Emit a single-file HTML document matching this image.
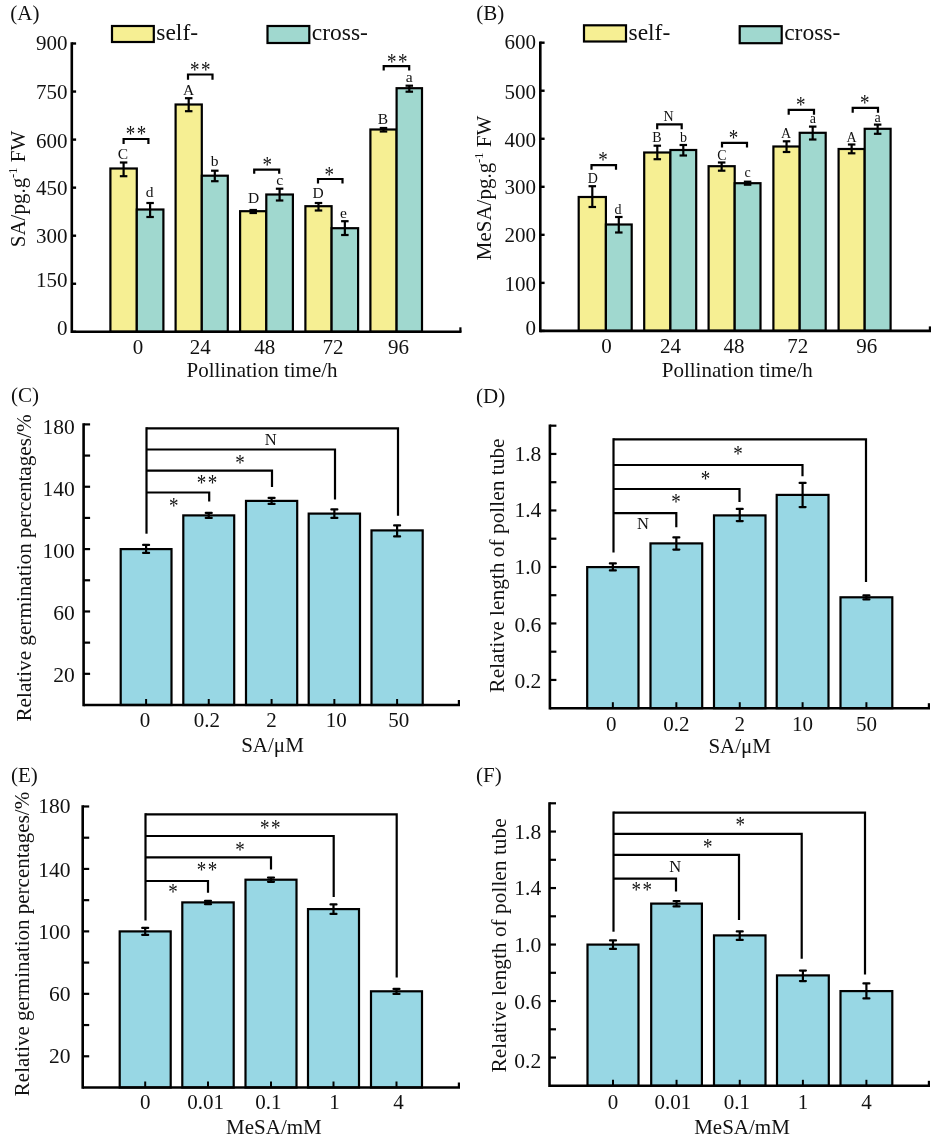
<!DOCTYPE html>
<html lang="en"><head><meta charset="utf-8"><title>Figure</title>
<style>
html,body{margin:0;padding:0;background:#fff;}
svg{display:block;will-change:transform;font-family:"Liberation Serif", "DejaVu Serif", serif;fill:#111;}
</style></head><body>
<svg width="931" height="1141" viewBox="0 0 931 1141">
<rect x="0" y="0" width="931" height="1141" fill="#fff" stroke="none"/>
<rect x="110.40" y="168.50" width="26.40" height="163.30" fill="#F6EF93" stroke="#000" stroke-width="2.2"/>
<rect x="136.80" y="209.50" width="26.60" height="122.30" fill="#A0D8CF" stroke="#000" stroke-width="2.2"/>
<rect x="175.60" y="104.50" width="26.20" height="227.30" fill="#F6EF93" stroke="#000" stroke-width="2.2"/>
<rect x="201.80" y="175.70" width="26.00" height="156.10" fill="#A0D8CF" stroke="#000" stroke-width="2.2"/>
<rect x="240.10" y="211.20" width="26.20" height="120.60" fill="#F6EF93" stroke="#000" stroke-width="2.2"/>
<rect x="266.30" y="194.50" width="26.60" height="137.30" fill="#A0D8CF" stroke="#000" stroke-width="2.2"/>
<rect x="305.40" y="206.20" width="26.20" height="125.60" fill="#F6EF93" stroke="#000" stroke-width="2.2"/>
<rect x="331.60" y="228.20" width="26.50" height="103.60" fill="#A0D8CF" stroke="#000" stroke-width="2.2"/>
<rect x="370.40" y="129.50" width="26.20" height="202.30" fill="#F6EF93" stroke="#000" stroke-width="2.2"/>
<rect x="396.60" y="88.20" width="25.40" height="243.60" fill="#A0D8CF" stroke="#000" stroke-width="2.2"/>
<line x1="123.60" y1="162.50" x2="123.60" y2="176.20" stroke="#000" stroke-width="2.2" stroke-linecap="butt"/>
<line x1="119.85" y1="162.50" x2="127.35" y2="162.50" stroke="#000" stroke-width="2.2" stroke-linecap="butt"/>
<line x1="119.85" y1="176.20" x2="127.35" y2="176.20" stroke="#000" stroke-width="2.2" stroke-linecap="butt"/>
<line x1="150.10" y1="203.00" x2="150.10" y2="217.00" stroke="#000" stroke-width="2.2" stroke-linecap="butt"/>
<line x1="146.35" y1="203.00" x2="153.85" y2="203.00" stroke="#000" stroke-width="2.2" stroke-linecap="butt"/>
<line x1="146.35" y1="217.00" x2="153.85" y2="217.00" stroke="#000" stroke-width="2.2" stroke-linecap="butt"/>
<line x1="188.70" y1="98.20" x2="188.70" y2="111.20" stroke="#000" stroke-width="2.2" stroke-linecap="butt"/>
<line x1="184.95" y1="98.20" x2="192.45" y2="98.20" stroke="#000" stroke-width="2.2" stroke-linecap="butt"/>
<line x1="184.95" y1="111.20" x2="192.45" y2="111.20" stroke="#000" stroke-width="2.2" stroke-linecap="butt"/>
<line x1="214.80" y1="170.70" x2="214.80" y2="181.20" stroke="#000" stroke-width="2.2" stroke-linecap="butt"/>
<line x1="211.05" y1="170.70" x2="218.55" y2="170.70" stroke="#000" stroke-width="2.2" stroke-linecap="butt"/>
<line x1="211.05" y1="181.20" x2="218.55" y2="181.20" stroke="#000" stroke-width="2.2" stroke-linecap="butt"/>
<line x1="253.20" y1="210.00" x2="253.20" y2="213.00" stroke="#000" stroke-width="2.2" stroke-linecap="butt"/>
<line x1="249.45" y1="210.00" x2="256.95" y2="210.00" stroke="#000" stroke-width="2.2" stroke-linecap="butt"/>
<line x1="249.45" y1="213.00" x2="256.95" y2="213.00" stroke="#000" stroke-width="2.2" stroke-linecap="butt"/>
<line x1="279.60" y1="188.70" x2="279.60" y2="200.50" stroke="#000" stroke-width="2.2" stroke-linecap="butt"/>
<line x1="275.85" y1="188.70" x2="283.35" y2="188.70" stroke="#000" stroke-width="2.2" stroke-linecap="butt"/>
<line x1="275.85" y1="200.50" x2="283.35" y2="200.50" stroke="#000" stroke-width="2.2" stroke-linecap="butt"/>
<line x1="318.50" y1="203.00" x2="318.50" y2="210.50" stroke="#000" stroke-width="2.2" stroke-linecap="butt"/>
<line x1="314.75" y1="203.00" x2="322.25" y2="203.00" stroke="#000" stroke-width="2.2" stroke-linecap="butt"/>
<line x1="314.75" y1="210.50" x2="322.25" y2="210.50" stroke="#000" stroke-width="2.2" stroke-linecap="butt"/>
<line x1="344.85" y1="221.20" x2="344.85" y2="235.00" stroke="#000" stroke-width="2.2" stroke-linecap="butt"/>
<line x1="341.10" y1="221.20" x2="348.60" y2="221.20" stroke="#000" stroke-width="2.2" stroke-linecap="butt"/>
<line x1="341.10" y1="235.00" x2="348.60" y2="235.00" stroke="#000" stroke-width="2.2" stroke-linecap="butt"/>
<line x1="383.50" y1="128.00" x2="383.50" y2="131.50" stroke="#000" stroke-width="2.2" stroke-linecap="butt"/>
<line x1="379.75" y1="128.00" x2="387.25" y2="128.00" stroke="#000" stroke-width="2.2" stroke-linecap="butt"/>
<line x1="379.75" y1="131.50" x2="387.25" y2="131.50" stroke="#000" stroke-width="2.2" stroke-linecap="butt"/>
<line x1="409.30" y1="85.70" x2="409.30" y2="91.70" stroke="#000" stroke-width="2.2" stroke-linecap="butt"/>
<line x1="405.55" y1="85.70" x2="413.05" y2="85.70" stroke="#000" stroke-width="2.2" stroke-linecap="butt"/>
<line x1="405.55" y1="91.70" x2="413.05" y2="91.70" stroke="#000" stroke-width="2.2" stroke-linecap="butt"/>
<line x1="71.80" y1="42.30" x2="71.80" y2="333.10" stroke="#000" stroke-width="2.6" stroke-linecap="butt"/>
<line x1="71.80" y1="331.80" x2="461.50" y2="331.80" stroke="#000" stroke-width="2.6" stroke-linecap="butt"/>
<line x1="460.40" y1="331.80" x2="460.40" y2="327.30" stroke="#000" stroke-width="2.2" stroke-linecap="butt"/>
<line x1="71.80" y1="331.80" x2="76.10" y2="331.80" stroke="#000" stroke-width="2.4" stroke-linecap="butt"/>
<text x="67.60" y="335.40" font-size="21" text-anchor="end" >0</text>
<line x1="71.80" y1="283.75" x2="76.10" y2="283.75" stroke="#000" stroke-width="2.4" stroke-linecap="butt"/>
<text x="67.60" y="287.15" font-size="21" text-anchor="end" >150</text>
<line x1="71.80" y1="235.70" x2="76.10" y2="235.70" stroke="#000" stroke-width="2.4" stroke-linecap="butt"/>
<text x="67.60" y="243.00" font-size="21" text-anchor="end" >300</text>
<line x1="71.80" y1="187.65" x2="76.10" y2="187.65" stroke="#000" stroke-width="2.4" stroke-linecap="butt"/>
<text x="67.60" y="195.25" font-size="21" text-anchor="end" >450</text>
<line x1="71.80" y1="139.60" x2="76.10" y2="139.60" stroke="#000" stroke-width="2.4" stroke-linecap="butt"/>
<text x="67.60" y="147.60" font-size="21" text-anchor="end" >600</text>
<line x1="71.80" y1="91.55" x2="76.10" y2="91.55" stroke="#000" stroke-width="2.4" stroke-linecap="butt"/>
<text x="67.60" y="98.55" font-size="21" text-anchor="end" >750</text>
<line x1="71.80" y1="43.50" x2="76.10" y2="43.50" stroke="#000" stroke-width="2.4" stroke-linecap="butt"/>
<text x="67.60" y="49.90" font-size="21" text-anchor="end" >900</text>
<text x="138.10" y="353.70" font-size="21" text-anchor="middle" >0</text>
<path d="M123.60,144.00 V139.00 H148.40 V144.00" fill="none" stroke="#000" stroke-width="2.2" stroke-linejoin="miter"/>
<text transform="translate(136.80,141.40) scale(1,1.22)" font-size="19" text-anchor="middle" letter-spacing="1.6">**</text>
<text x="123.00" y="159.20" font-size="15.5" text-anchor="middle" >C</text>
<text x="149.50" y="197.00" font-size="15.5" text-anchor="middle" >d</text>
<text x="200.30" y="353.70" font-size="21" text-anchor="middle" >24</text>
<path d="M188.00,79.70 V74.50 H212.50 V79.70" fill="none" stroke="#000" stroke-width="2.2" stroke-linejoin="miter"/>
<text transform="translate(201.00,76.90) scale(1,1.22)" font-size="19" text-anchor="middle" letter-spacing="1.6">**</text>
<text x="188.70" y="95.00" font-size="15.5" text-anchor="middle" >A</text>
<text x="214.50" y="166.20" font-size="15.5" text-anchor="middle" >b</text>
<text x="264.80" y="353.70" font-size="21" text-anchor="middle" >48</text>
<path d="M254.20,173.80 V169.60 H279.20 V173.80" fill="none" stroke="#000" stroke-width="2.2" stroke-linejoin="miter"/>
<text transform="translate(267.20,171.90) scale(1,1.22)" font-size="19" text-anchor="middle">*</text>
<text x="253.50" y="203.40" font-size="15.5" text-anchor="middle" >D</text>
<text x="279.80" y="185.00" font-size="15.5" text-anchor="middle" >c</text>
<text x="333.10" y="353.70" font-size="21" text-anchor="middle" >72</text>
<path d="M318.00,183.50 V179.00 H342.50 V183.50" fill="none" stroke="#000" stroke-width="2.2" stroke-linejoin="miter"/>
<text transform="translate(329.20,181.90) scale(1,1.22)" font-size="19" text-anchor="middle">*</text>
<text x="318.10" y="198.40" font-size="15.5" text-anchor="middle" >D</text>
<text x="343.50" y="218.40" font-size="15.5" text-anchor="middle" >e</text>
<text x="398.60" y="353.70" font-size="21" text-anchor="middle" >96</text>
<path d="M383.70,70.50 V66.20 H409.20 V70.50" fill="none" stroke="#000" stroke-width="2.2" stroke-linejoin="miter"/>
<text transform="translate(398.00,68.90) scale(1,1.22)" font-size="19" text-anchor="middle" letter-spacing="1.6">**</text>
<text x="383.00" y="124.00" font-size="15.5" text-anchor="middle" >B</text>
<text x="409.20" y="82.00" font-size="15.5" text-anchor="middle" >a</text>
<text x="262.00" y="376.70" font-size="21" text-anchor="middle" >Pollination time/h</text>
<text transform="translate(24.50,189.00) rotate(-90)" font-size="21" text-anchor="middle">SA/pg.g<tspan font-size="12.5" dy="-8">-1</tspan><tspan dy="8"> FW</tspan></text>
<text x="10.30" y="20.00" font-size="21" text-anchor="start" >(A)</text>
<rect x="112.00" y="26.00" width="41.80" height="16.00" fill="#F6EF93" stroke="#000" stroke-width="2.2"/>
<text x="156.30" y="40.00" font-size="23.5" text-anchor="start" >self-</text>
<rect x="267.50" y="26.00" width="41.80" height="17.00" fill="#A0D8CF" stroke="#000" stroke-width="2.2"/>
<text x="311.80" y="40.00" font-size="23.5" text-anchor="start" >cross-</text>
<rect x="578.70" y="197.00" width="27.20" height="133.90" fill="#F6EF93" stroke="#000" stroke-width="2.2"/>
<rect x="605.90" y="224.50" width="25.80" height="106.40" fill="#A0D8CF" stroke="#000" stroke-width="2.2"/>
<rect x="644.20" y="152.50" width="26.20" height="178.40" fill="#F6EF93" stroke="#000" stroke-width="2.2"/>
<rect x="670.40" y="150.00" width="25.80" height="180.90" fill="#A0D8CF" stroke="#000" stroke-width="2.2"/>
<rect x="708.60" y="166.20" width="26.10" height="164.70" fill="#F6EF93" stroke="#000" stroke-width="2.2"/>
<rect x="734.70" y="183.20" width="25.80" height="147.70" fill="#A0D8CF" stroke="#000" stroke-width="2.2"/>
<rect x="773.40" y="146.50" width="26.30" height="184.40" fill="#F6EF93" stroke="#000" stroke-width="2.2"/>
<rect x="799.70" y="132.80" width="26.00" height="198.10" fill="#A0D8CF" stroke="#000" stroke-width="2.2"/>
<rect x="838.60" y="149.00" width="26.10" height="181.90" fill="#F6EF93" stroke="#000" stroke-width="2.2"/>
<rect x="864.70" y="128.80" width="25.90" height="202.10" fill="#A0D8CF" stroke="#000" stroke-width="2.2"/>
<line x1="592.30" y1="186.20" x2="592.30" y2="207.00" stroke="#000" stroke-width="2.2" stroke-linecap="butt"/>
<line x1="588.55" y1="186.20" x2="596.05" y2="186.20" stroke="#000" stroke-width="2.2" stroke-linecap="butt"/>
<line x1="588.55" y1="207.00" x2="596.05" y2="207.00" stroke="#000" stroke-width="2.2" stroke-linecap="butt"/>
<line x1="618.80" y1="217.00" x2="618.80" y2="232.50" stroke="#000" stroke-width="2.2" stroke-linecap="butt"/>
<line x1="615.05" y1="217.00" x2="622.55" y2="217.00" stroke="#000" stroke-width="2.2" stroke-linecap="butt"/>
<line x1="615.05" y1="232.50" x2="622.55" y2="232.50" stroke="#000" stroke-width="2.2" stroke-linecap="butt"/>
<line x1="657.30" y1="145.70" x2="657.30" y2="159.20" stroke="#000" stroke-width="2.2" stroke-linecap="butt"/>
<line x1="653.55" y1="145.70" x2="661.05" y2="145.70" stroke="#000" stroke-width="2.2" stroke-linecap="butt"/>
<line x1="653.55" y1="159.20" x2="661.05" y2="159.20" stroke="#000" stroke-width="2.2" stroke-linecap="butt"/>
<line x1="683.30" y1="145.00" x2="683.30" y2="155.50" stroke="#000" stroke-width="2.2" stroke-linecap="butt"/>
<line x1="679.55" y1="145.00" x2="687.05" y2="145.00" stroke="#000" stroke-width="2.2" stroke-linecap="butt"/>
<line x1="679.55" y1="155.50" x2="687.05" y2="155.50" stroke="#000" stroke-width="2.2" stroke-linecap="butt"/>
<line x1="721.65" y1="162.50" x2="721.65" y2="170.70" stroke="#000" stroke-width="2.2" stroke-linecap="butt"/>
<line x1="717.90" y1="162.50" x2="725.40" y2="162.50" stroke="#000" stroke-width="2.2" stroke-linecap="butt"/>
<line x1="717.90" y1="170.70" x2="725.40" y2="170.70" stroke="#000" stroke-width="2.2" stroke-linecap="butt"/>
<line x1="747.60" y1="181.70" x2="747.60" y2="184.70" stroke="#000" stroke-width="2.2" stroke-linecap="butt"/>
<line x1="743.85" y1="181.70" x2="751.35" y2="181.70" stroke="#000" stroke-width="2.2" stroke-linecap="butt"/>
<line x1="743.85" y1="184.70" x2="751.35" y2="184.70" stroke="#000" stroke-width="2.2" stroke-linecap="butt"/>
<line x1="786.55" y1="141.30" x2="786.55" y2="152.00" stroke="#000" stroke-width="2.2" stroke-linecap="butt"/>
<line x1="782.80" y1="141.30" x2="790.30" y2="141.30" stroke="#000" stroke-width="2.2" stroke-linecap="butt"/>
<line x1="782.80" y1="152.00" x2="790.30" y2="152.00" stroke="#000" stroke-width="2.2" stroke-linecap="butt"/>
<line x1="812.70" y1="126.60" x2="812.70" y2="139.50" stroke="#000" stroke-width="2.2" stroke-linecap="butt"/>
<line x1="808.95" y1="126.60" x2="816.45" y2="126.60" stroke="#000" stroke-width="2.2" stroke-linecap="butt"/>
<line x1="808.95" y1="139.50" x2="816.45" y2="139.50" stroke="#000" stroke-width="2.2" stroke-linecap="butt"/>
<line x1="851.65" y1="144.50" x2="851.65" y2="153.30" stroke="#000" stroke-width="2.2" stroke-linecap="butt"/>
<line x1="847.90" y1="144.50" x2="855.40" y2="144.50" stroke="#000" stroke-width="2.2" stroke-linecap="butt"/>
<line x1="847.90" y1="153.30" x2="855.40" y2="153.30" stroke="#000" stroke-width="2.2" stroke-linecap="butt"/>
<line x1="877.65" y1="124.60" x2="877.65" y2="133.80" stroke="#000" stroke-width="2.2" stroke-linecap="butt"/>
<line x1="873.90" y1="124.60" x2="881.40" y2="124.60" stroke="#000" stroke-width="2.2" stroke-linecap="butt"/>
<line x1="873.90" y1="133.80" x2="881.40" y2="133.80" stroke="#000" stroke-width="2.2" stroke-linecap="butt"/>
<line x1="540.30" y1="41.50" x2="540.30" y2="332.20" stroke="#000" stroke-width="2.6" stroke-linecap="butt"/>
<line x1="540.30" y1="330.90" x2="931.00" y2="330.90" stroke="#000" stroke-width="2.6" stroke-linecap="butt"/>
<line x1="929.90" y1="330.90" x2="929.90" y2="326.40" stroke="#000" stroke-width="2.2" stroke-linecap="butt"/>
<line x1="540.30" y1="330.90" x2="544.60" y2="330.90" stroke="#000" stroke-width="2.4" stroke-linecap="butt"/>
<text x="536.10" y="334.90" font-size="21" text-anchor="end" >0</text>
<line x1="540.30" y1="282.87" x2="544.60" y2="282.87" stroke="#000" stroke-width="2.4" stroke-linecap="butt"/>
<text x="536.10" y="291.17" font-size="21" text-anchor="end" >100</text>
<line x1="540.30" y1="234.83" x2="544.60" y2="234.83" stroke="#000" stroke-width="2.4" stroke-linecap="butt"/>
<text x="536.10" y="242.43" font-size="21" text-anchor="end" >200</text>
<line x1="540.30" y1="186.80" x2="544.60" y2="186.80" stroke="#000" stroke-width="2.4" stroke-linecap="butt"/>
<text x="536.10" y="194.40" font-size="21" text-anchor="end" >300</text>
<line x1="540.30" y1="138.77" x2="544.60" y2="138.77" stroke="#000" stroke-width="2.4" stroke-linecap="butt"/>
<text x="536.10" y="146.77" font-size="21" text-anchor="end" >400</text>
<line x1="540.30" y1="90.73" x2="544.60" y2="90.73" stroke="#000" stroke-width="2.4" stroke-linecap="butt"/>
<text x="536.10" y="98.93" font-size="21" text-anchor="end" >500</text>
<line x1="540.30" y1="42.70" x2="544.60" y2="42.70" stroke="#000" stroke-width="2.4" stroke-linecap="butt"/>
<text x="536.10" y="49.30" font-size="21" text-anchor="end" >600</text>
<text x="606.40" y="352.50" font-size="21" text-anchor="middle" >0</text>
<path d="M591.50,169.70 V165.20 H616.00 V169.70" fill="none" stroke="#000" stroke-width="2.2" stroke-linejoin="miter"/>
<text transform="translate(603.00,166.90) scale(1,1.22)" font-size="19" text-anchor="middle">*</text>
<text x="592.70" y="183.00" font-size="14" text-anchor="middle" >D</text>
<text x="618.00" y="213.70" font-size="14" text-anchor="middle" >d</text>
<text x="670.40" y="352.50" font-size="21" text-anchor="middle" >24</text>
<path d="M657.20,129.20 V124.40 H681.70 V129.20" fill="none" stroke="#000" stroke-width="2.2" stroke-linejoin="miter"/>
<text x="668.50" y="121.20" font-size="14" text-anchor="middle" >N</text>
<text x="657.00" y="142.00" font-size="14" text-anchor="middle" >B</text>
<text x="683.50" y="142.00" font-size="14" text-anchor="middle" >b</text>
<text x="734.00" y="352.50" font-size="21" text-anchor="middle" >48</text>
<path d="M722.00,147.50 V142.80 H747.00 V147.50" fill="none" stroke="#000" stroke-width="2.2" stroke-linejoin="miter"/>
<text transform="translate(733.40,144.90) scale(1,1.22)" font-size="19" text-anchor="middle">*</text>
<text x="722.00" y="159.50" font-size="14" text-anchor="middle" >C</text>
<text x="747.60" y="177.40" font-size="14" text-anchor="middle" >c</text>
<text x="797.80" y="352.50" font-size="21" text-anchor="middle" >72</text>
<path d="M788.70,114.80 V109.80 H814.00 V114.80" fill="none" stroke="#000" stroke-width="2.2" stroke-linejoin="miter"/>
<text transform="translate(800.70,111.90) scale(1,1.22)" font-size="19" text-anchor="middle">*</text>
<text x="786.00" y="137.80" font-size="14" text-anchor="middle" >A</text>
<text x="812.90" y="123.40" font-size="14" text-anchor="middle" >a</text>
<text x="866.80" y="352.50" font-size="21" text-anchor="middle" >96</text>
<path d="M852.70,112.80 V107.80 H878.00 V112.80" fill="none" stroke="#000" stroke-width="2.2" stroke-linejoin="miter"/>
<text transform="translate(864.70,109.90) scale(1,1.22)" font-size="19" text-anchor="middle">*</text>
<text x="851.50" y="142.00" font-size="14" text-anchor="middle" >A</text>
<text x="877.70" y="121.60" font-size="14" text-anchor="middle" >a</text>
<text x="737.30" y="376.70" font-size="21" text-anchor="middle" >Pollination time/h</text>
<text transform="translate(491.00,188.00) rotate(-90)" font-size="21" text-anchor="middle">MeSA/pg.g<tspan font-size="12.5" dy="-8">-1</tspan><tspan dy="8"> FW</tspan></text>
<text x="476.30" y="20.00" font-size="21" text-anchor="start" >(B)</text>
<rect x="584.00" y="25.30" width="42.00" height="16.20" fill="#F6EF93" stroke="#000" stroke-width="2.2"/>
<text x="628.50" y="40.00" font-size="23.5" text-anchor="start" >self-</text>
<rect x="739.70" y="26.20" width="42.00" height="17.00" fill="#A0D8CF" stroke="#000" stroke-width="2.2"/>
<text x="784.20" y="40.00" font-size="23.5" text-anchor="start" >cross-</text>
<rect x="120.70" y="549.10" width="50.80" height="155.90" fill="#98D7E4" stroke="#000" stroke-width="2.2"/>
<rect x="183.30" y="515.40" width="50.90" height="189.60" fill="#98D7E4" stroke="#000" stroke-width="2.2"/>
<rect x="246.00" y="500.90" width="51.20" height="204.10" fill="#98D7E4" stroke="#000" stroke-width="2.2"/>
<rect x="308.70" y="513.60" width="51.30" height="191.40" fill="#98D7E4" stroke="#000" stroke-width="2.2"/>
<rect x="371.50" y="530.40" width="51.20" height="174.60" fill="#98D7E4" stroke="#000" stroke-width="2.2"/>
<line x1="146.10" y1="544.90" x2="146.10" y2="552.90" stroke="#000" stroke-width="2.2" stroke-linecap="butt"/>
<line x1="143.10" y1="544.90" x2="149.10" y2="544.90" stroke="#000" stroke-width="2.2" stroke-linecap="round"/>
<line x1="143.10" y1="552.90" x2="149.10" y2="552.90" stroke="#000" stroke-width="2.2" stroke-linecap="round"/>
<line x1="146.10" y1="705.00" x2="146.10" y2="699.00" stroke="#000" stroke-width="2.0" stroke-linecap="butt"/>
<text x="145.10" y="727.00" font-size="21" text-anchor="middle" >0</text>
<line x1="208.75" y1="512.90" x2="208.75" y2="517.90" stroke="#000" stroke-width="2.2" stroke-linecap="butt"/>
<line x1="205.75" y1="512.90" x2="211.75" y2="512.90" stroke="#000" stroke-width="2.2" stroke-linecap="round"/>
<line x1="205.75" y1="517.90" x2="211.75" y2="517.90" stroke="#000" stroke-width="2.2" stroke-linecap="round"/>
<line x1="208.75" y1="705.00" x2="208.75" y2="699.00" stroke="#000" stroke-width="2.0" stroke-linecap="butt"/>
<text x="206.75" y="727.00" font-size="21" text-anchor="middle" >0.2</text>
<line x1="271.60" y1="497.90" x2="271.60" y2="503.90" stroke="#000" stroke-width="2.2" stroke-linecap="butt"/>
<line x1="268.60" y1="497.90" x2="274.60" y2="497.90" stroke="#000" stroke-width="2.2" stroke-linecap="round"/>
<line x1="268.60" y1="503.90" x2="274.60" y2="503.90" stroke="#000" stroke-width="2.2" stroke-linecap="round"/>
<line x1="271.60" y1="705.00" x2="271.60" y2="699.00" stroke="#000" stroke-width="2.0" stroke-linecap="butt"/>
<text x="271.60" y="727.00" font-size="21" text-anchor="middle" >2</text>
<line x1="334.35" y1="509.40" x2="334.35" y2="517.90" stroke="#000" stroke-width="2.2" stroke-linecap="butt"/>
<line x1="331.35" y1="509.40" x2="337.35" y2="509.40" stroke="#000" stroke-width="2.2" stroke-linecap="round"/>
<line x1="331.35" y1="517.90" x2="337.35" y2="517.90" stroke="#000" stroke-width="2.2" stroke-linecap="round"/>
<line x1="334.35" y1="705.00" x2="334.35" y2="699.00" stroke="#000" stroke-width="2.0" stroke-linecap="butt"/>
<text x="336.35" y="727.00" font-size="21" text-anchor="middle" >10</text>
<line x1="397.10" y1="525.40" x2="397.10" y2="536.40" stroke="#000" stroke-width="2.2" stroke-linecap="butt"/>
<line x1="394.10" y1="525.40" x2="400.10" y2="525.40" stroke="#000" stroke-width="2.2" stroke-linecap="round"/>
<line x1="394.10" y1="536.40" x2="400.10" y2="536.40" stroke="#000" stroke-width="2.2" stroke-linecap="round"/>
<line x1="397.10" y1="705.00" x2="397.10" y2="699.00" stroke="#000" stroke-width="2.0" stroke-linecap="butt"/>
<text x="398.70" y="727.00" font-size="21" text-anchor="middle" >50</text>
<line x1="83.60" y1="423.20" x2="83.60" y2="706.30" stroke="#000" stroke-width="2.6" stroke-linecap="butt"/>
<line x1="83.60" y1="705.00" x2="460.00" y2="705.00" stroke="#000" stroke-width="2.6" stroke-linecap="butt"/>
<line x1="458.90" y1="705.00" x2="458.90" y2="700.00" stroke="#000" stroke-width="2.2" stroke-linecap="butt"/>
<line x1="83.60" y1="673.82" x2="90.10" y2="673.82" stroke="#000" stroke-width="2.2" stroke-linecap="butt"/>
<text x="74.80" y="682.22" font-size="21.5" text-anchor="end" >20</text>
<line x1="83.60" y1="642.64" x2="90.10" y2="642.64" stroke="#000" stroke-width="2.2" stroke-linecap="butt"/>
<line x1="83.60" y1="611.47" x2="90.10" y2="611.47" stroke="#000" stroke-width="2.2" stroke-linecap="butt"/>
<text x="74.80" y="619.87" font-size="21.5" text-anchor="end" >60</text>
<line x1="83.60" y1="580.29" x2="90.10" y2="580.29" stroke="#000" stroke-width="2.2" stroke-linecap="butt"/>
<line x1="83.60" y1="549.11" x2="90.10" y2="549.11" stroke="#000" stroke-width="2.2" stroke-linecap="butt"/>
<text x="74.80" y="557.51" font-size="21.5" text-anchor="end" >100</text>
<line x1="83.60" y1="517.93" x2="90.10" y2="517.93" stroke="#000" stroke-width="2.2" stroke-linecap="butt"/>
<line x1="83.60" y1="486.75" x2="90.10" y2="486.75" stroke="#000" stroke-width="2.2" stroke-linecap="butt"/>
<text x="74.80" y="495.65" font-size="21.5" text-anchor="end" >140</text>
<line x1="83.60" y1="455.58" x2="90.10" y2="455.58" stroke="#000" stroke-width="2.2" stroke-linecap="butt"/>
<line x1="83.60" y1="424.40" x2="90.10" y2="424.40" stroke="#000" stroke-width="2.2" stroke-linecap="butt"/>
<text x="74.80" y="433.60" font-size="21.5" text-anchor="end" >180</text>
<line x1="146.50" y1="427.20" x2="146.50" y2="533.70" stroke="#000" stroke-width="2.2" stroke-linecap="butt"/>
<path d="M146.50,428.30 H398.00 V515.70" fill="none" stroke="#000" stroke-width="2.2" stroke-linejoin="miter"/>
<path d="M146.50,449.50 H335.00 V499.50" fill="none" stroke="#000" stroke-width="2.2" stroke-linejoin="miter"/>
<path d="M146.50,470.70 H272.00 V487.00" fill="none" stroke="#000" stroke-width="2.2" stroke-linejoin="miter"/>
<path d="M146.50,492.50 H209.20 V501.50" fill="none" stroke="#000" stroke-width="2.2" stroke-linejoin="miter"/>
<text x="270.70" y="445.00" font-size="16.5" text-anchor="middle" >N</text>
<text transform="translate(240.00,470.20) scale(1,1.22)" font-size="19" text-anchor="middle">*</text>
<text transform="translate(207.80,490.20) scale(1,1.22)" font-size="19" text-anchor="middle" letter-spacing="1.6">**</text>
<text transform="translate(173.70,512.70) scale(1,1.22)" font-size="19" text-anchor="middle">*</text>
<text x="272.50" y="752.00" font-size="21" text-anchor="middle" >SA/μM</text>
<text transform="translate(30.50,568.00) rotate(-90)" font-size="21.2" text-anchor="middle">Relative germination percentages/%</text>
<text x="11.00" y="402.00" font-size="21" text-anchor="start" >(C)</text>
<rect x="587.20" y="567.10" width="51.30" height="141.10" fill="#98D7E4" stroke="#000" stroke-width="2.2"/>
<rect x="650.50" y="543.40" width="51.70" height="164.80" fill="#98D7E4" stroke="#000" stroke-width="2.2"/>
<rect x="714.00" y="515.40" width="51.50" height="192.80" fill="#98D7E4" stroke="#000" stroke-width="2.2"/>
<rect x="776.70" y="494.90" width="51.80" height="213.30" fill="#98D7E4" stroke="#000" stroke-width="2.2"/>
<rect x="840.50" y="597.30" width="51.80" height="110.90" fill="#98D7E4" stroke="#000" stroke-width="2.2"/>
<line x1="612.85" y1="563.40" x2="612.85" y2="570.40" stroke="#000" stroke-width="2.2" stroke-linecap="butt"/>
<line x1="609.85" y1="563.40" x2="615.85" y2="563.40" stroke="#000" stroke-width="2.2" stroke-linecap="round"/>
<line x1="609.85" y1="570.40" x2="615.85" y2="570.40" stroke="#000" stroke-width="2.2" stroke-linecap="round"/>
<line x1="612.85" y1="708.20" x2="612.85" y2="702.20" stroke="#000" stroke-width="2.0" stroke-linecap="butt"/>
<text x="611.35" y="730.80" font-size="21" text-anchor="middle" >0</text>
<line x1="676.35" y1="537.40" x2="676.35" y2="549.60" stroke="#000" stroke-width="2.2" stroke-linecap="butt"/>
<line x1="673.35" y1="537.40" x2="679.35" y2="537.40" stroke="#000" stroke-width="2.2" stroke-linecap="round"/>
<line x1="673.35" y1="549.60" x2="679.35" y2="549.60" stroke="#000" stroke-width="2.2" stroke-linecap="round"/>
<line x1="676.35" y1="708.20" x2="676.35" y2="702.20" stroke="#000" stroke-width="2.0" stroke-linecap="butt"/>
<text x="676.35" y="730.80" font-size="21" text-anchor="middle" >0.2</text>
<line x1="739.75" y1="508.90" x2="739.75" y2="521.10" stroke="#000" stroke-width="2.2" stroke-linecap="butt"/>
<line x1="736.75" y1="508.90" x2="742.75" y2="508.90" stroke="#000" stroke-width="2.2" stroke-linecap="round"/>
<line x1="736.75" y1="521.10" x2="742.75" y2="521.10" stroke="#000" stroke-width="2.2" stroke-linecap="round"/>
<line x1="739.75" y1="708.20" x2="739.75" y2="702.20" stroke="#000" stroke-width="2.0" stroke-linecap="butt"/>
<text x="739.75" y="730.80" font-size="21" text-anchor="middle" >2</text>
<line x1="802.60" y1="482.90" x2="802.60" y2="507.10" stroke="#000" stroke-width="2.2" stroke-linecap="butt"/>
<line x1="799.60" y1="482.90" x2="805.60" y2="482.90" stroke="#000" stroke-width="2.2" stroke-linecap="round"/>
<line x1="799.60" y1="507.10" x2="805.60" y2="507.10" stroke="#000" stroke-width="2.2" stroke-linecap="round"/>
<line x1="802.60" y1="708.20" x2="802.60" y2="702.20" stroke="#000" stroke-width="2.0" stroke-linecap="butt"/>
<text x="802.60" y="730.80" font-size="21" text-anchor="middle" >10</text>
<line x1="866.40" y1="595.40" x2="866.40" y2="599.40" stroke="#000" stroke-width="2.2" stroke-linecap="butt"/>
<line x1="863.40" y1="595.40" x2="869.40" y2="595.40" stroke="#000" stroke-width="2.2" stroke-linecap="round"/>
<line x1="863.40" y1="599.40" x2="869.40" y2="599.40" stroke="#000" stroke-width="2.2" stroke-linecap="round"/>
<line x1="866.40" y1="708.20" x2="866.40" y2="702.20" stroke="#000" stroke-width="2.0" stroke-linecap="butt"/>
<text x="866.40" y="730.80" font-size="21" text-anchor="middle" >50</text>
<line x1="549.90" y1="424.50" x2="549.90" y2="709.50" stroke="#000" stroke-width="2.6" stroke-linecap="butt"/>
<line x1="549.90" y1="708.20" x2="930.00" y2="708.20" stroke="#000" stroke-width="2.6" stroke-linecap="butt"/>
<line x1="928.90" y1="708.20" x2="928.90" y2="703.20" stroke="#000" stroke-width="2.2" stroke-linecap="butt"/>
<line x1="549.90" y1="679.95" x2="556.40" y2="679.95" stroke="#000" stroke-width="2.2" stroke-linecap="butt"/>
<text x="541.30" y="687.75" font-size="21.5" text-anchor="end" >0.2</text>
<line x1="549.90" y1="651.70" x2="556.40" y2="651.70" stroke="#000" stroke-width="2.2" stroke-linecap="butt"/>
<line x1="549.90" y1="623.45" x2="556.40" y2="623.45" stroke="#000" stroke-width="2.2" stroke-linecap="butt"/>
<text x="541.30" y="632.25" font-size="21.5" text-anchor="end" >0.6</text>
<line x1="549.90" y1="595.20" x2="556.40" y2="595.20" stroke="#000" stroke-width="2.2" stroke-linecap="butt"/>
<line x1="549.90" y1="566.95" x2="556.40" y2="566.95" stroke="#000" stroke-width="2.2" stroke-linecap="butt"/>
<text x="541.30" y="574.45" font-size="21.5" text-anchor="end" >1.0</text>
<line x1="549.90" y1="538.70" x2="556.40" y2="538.70" stroke="#000" stroke-width="2.2" stroke-linecap="butt"/>
<line x1="549.90" y1="510.45" x2="556.40" y2="510.45" stroke="#000" stroke-width="2.2" stroke-linecap="butt"/>
<text x="541.30" y="517.45" font-size="21.5" text-anchor="end" >1.4</text>
<line x1="549.90" y1="482.20" x2="556.40" y2="482.20" stroke="#000" stroke-width="2.2" stroke-linecap="butt"/>
<line x1="549.90" y1="453.95" x2="556.40" y2="453.95" stroke="#000" stroke-width="2.2" stroke-linecap="butt"/>
<text x="541.30" y="460.95" font-size="21.5" text-anchor="end" >1.8</text>
<line x1="549.90" y1="425.70" x2="556.40" y2="425.70" stroke="#000" stroke-width="2.2" stroke-linecap="butt"/>
<line x1="613.50" y1="438.20" x2="613.50" y2="552.50" stroke="#000" stroke-width="2.2" stroke-linecap="butt"/>
<path d="M613.50,439.30 H866.00 V582.00" fill="none" stroke="#000" stroke-width="2.2" stroke-linejoin="miter"/>
<path d="M613.50,465.00 H802.50 V476.20" fill="none" stroke="#000" stroke-width="2.2" stroke-linejoin="miter"/>
<path d="M613.50,489.00 H739.50 V502.00" fill="none" stroke="#000" stroke-width="2.2" stroke-linejoin="miter"/>
<path d="M613.50,513.20 H676.30 V527.30" fill="none" stroke="#000" stroke-width="2.2" stroke-linejoin="miter"/>
<text transform="translate(738.00,461.20) scale(1,1.22)" font-size="19" text-anchor="middle">*</text>
<text transform="translate(705.50,485.70) scale(1,1.22)" font-size="19" text-anchor="middle">*</text>
<text transform="translate(676.00,509.20) scale(1,1.22)" font-size="19" text-anchor="middle">*</text>
<text x="643.00" y="529.20" font-size="16.5" text-anchor="middle" >N</text>
<text x="739.70" y="753.40" font-size="21" text-anchor="middle" >SA/μM</text>
<text transform="translate(503.50,565.50) rotate(-90)" font-size="21.4" text-anchor="middle">Relative length of pollen tube</text>
<text x="476.00" y="403.00" font-size="21" text-anchor="start" >(D)</text>
<rect x="119.70" y="931.40" width="51.00" height="156.10" fill="#98D7E4" stroke="#000" stroke-width="2.2"/>
<rect x="182.30" y="902.40" width="51.40" height="185.10" fill="#98D7E4" stroke="#000" stroke-width="2.2"/>
<rect x="245.50" y="879.70" width="51.00" height="207.80" fill="#98D7E4" stroke="#000" stroke-width="2.2"/>
<rect x="308.00" y="909.10" width="51.00" height="178.40" fill="#98D7E4" stroke="#000" stroke-width="2.2"/>
<rect x="371.00" y="991.30" width="51.00" height="96.20" fill="#98D7E4" stroke="#000" stroke-width="2.2"/>
<line x1="145.20" y1="927.90" x2="145.20" y2="934.90" stroke="#000" stroke-width="2.2" stroke-linecap="butt"/>
<line x1="142.20" y1="927.90" x2="148.20" y2="927.90" stroke="#000" stroke-width="2.2" stroke-linecap="round"/>
<line x1="142.20" y1="934.90" x2="148.20" y2="934.90" stroke="#000" stroke-width="2.2" stroke-linecap="round"/>
<line x1="145.20" y1="1087.50" x2="145.20" y2="1081.50" stroke="#000" stroke-width="2.0" stroke-linecap="butt"/>
<text x="145.20" y="1109.00" font-size="21" text-anchor="middle" >0</text>
<line x1="208.00" y1="900.90" x2="208.00" y2="904.20" stroke="#000" stroke-width="2.2" stroke-linecap="butt"/>
<line x1="205.00" y1="900.90" x2="211.00" y2="900.90" stroke="#000" stroke-width="2.2" stroke-linecap="round"/>
<line x1="205.00" y1="904.20" x2="211.00" y2="904.20" stroke="#000" stroke-width="2.2" stroke-linecap="round"/>
<line x1="208.00" y1="1087.50" x2="208.00" y2="1081.50" stroke="#000" stroke-width="2.0" stroke-linecap="butt"/>
<text x="205.50" y="1109.00" font-size="21" text-anchor="middle" >0.01</text>
<line x1="271.00" y1="877.60" x2="271.00" y2="881.80" stroke="#000" stroke-width="2.2" stroke-linecap="butt"/>
<line x1="268.00" y1="877.60" x2="274.00" y2="877.60" stroke="#000" stroke-width="2.2" stroke-linecap="round"/>
<line x1="268.00" y1="881.80" x2="274.00" y2="881.80" stroke="#000" stroke-width="2.2" stroke-linecap="round"/>
<line x1="271.00" y1="1087.50" x2="271.00" y2="1081.50" stroke="#000" stroke-width="2.0" stroke-linecap="butt"/>
<text x="268.30" y="1109.00" font-size="21" text-anchor="middle" >0.1</text>
<line x1="333.50" y1="904.40" x2="333.50" y2="913.90" stroke="#000" stroke-width="2.2" stroke-linecap="butt"/>
<line x1="330.50" y1="904.40" x2="336.50" y2="904.40" stroke="#000" stroke-width="2.2" stroke-linecap="round"/>
<line x1="330.50" y1="913.90" x2="336.50" y2="913.90" stroke="#000" stroke-width="2.2" stroke-linecap="round"/>
<line x1="333.50" y1="1087.50" x2="333.50" y2="1081.50" stroke="#000" stroke-width="2.0" stroke-linecap="butt"/>
<text x="334.50" y="1109.00" font-size="21" text-anchor="middle" >1</text>
<line x1="396.50" y1="988.90" x2="396.50" y2="993.90" stroke="#000" stroke-width="2.2" stroke-linecap="butt"/>
<line x1="393.50" y1="988.90" x2="399.50" y2="988.90" stroke="#000" stroke-width="2.2" stroke-linecap="round"/>
<line x1="393.50" y1="993.90" x2="399.50" y2="993.90" stroke="#000" stroke-width="2.2" stroke-linecap="round"/>
<line x1="396.50" y1="1087.50" x2="396.50" y2="1081.50" stroke="#000" stroke-width="2.0" stroke-linecap="butt"/>
<text x="398.50" y="1109.00" font-size="21" text-anchor="middle" >4</text>
<line x1="82.70" y1="805.30" x2="82.70" y2="1088.80" stroke="#000" stroke-width="2.6" stroke-linecap="butt"/>
<line x1="82.70" y1="1087.50" x2="460.00" y2="1087.50" stroke="#000" stroke-width="2.6" stroke-linecap="butt"/>
<line x1="458.90" y1="1087.50" x2="458.90" y2="1082.50" stroke="#000" stroke-width="2.2" stroke-linecap="butt"/>
<line x1="82.70" y1="1056.28" x2="89.20" y2="1056.28" stroke="#000" stroke-width="2.2" stroke-linecap="butt"/>
<text x="70.40" y="1063.28" font-size="21.5" text-anchor="end" >20</text>
<line x1="82.70" y1="1025.05" x2="89.20" y2="1025.05" stroke="#000" stroke-width="2.2" stroke-linecap="butt"/>
<line x1="82.70" y1="993.83" x2="89.20" y2="993.83" stroke="#000" stroke-width="2.2" stroke-linecap="butt"/>
<text x="70.40" y="1000.83" font-size="21.5" text-anchor="end" >60</text>
<line x1="82.70" y1="962.60" x2="89.20" y2="962.60" stroke="#000" stroke-width="2.2" stroke-linecap="butt"/>
<line x1="82.70" y1="931.38" x2="89.20" y2="931.38" stroke="#000" stroke-width="2.2" stroke-linecap="butt"/>
<text x="70.40" y="938.88" font-size="21.5" text-anchor="end" >100</text>
<line x1="82.70" y1="900.16" x2="89.20" y2="900.16" stroke="#000" stroke-width="2.2" stroke-linecap="butt"/>
<line x1="82.70" y1="868.93" x2="89.20" y2="868.93" stroke="#000" stroke-width="2.2" stroke-linecap="butt"/>
<text x="70.40" y="877.33" font-size="21.5" text-anchor="end" >140</text>
<line x1="82.70" y1="837.71" x2="89.20" y2="837.71" stroke="#000" stroke-width="2.2" stroke-linecap="butt"/>
<line x1="82.70" y1="806.48" x2="89.20" y2="806.48" stroke="#000" stroke-width="2.2" stroke-linecap="butt"/>
<text x="70.40" y="813.48" font-size="21.5" text-anchor="end" >180</text>
<line x1="145.50" y1="813.20" x2="145.50" y2="920.50" stroke="#000" stroke-width="2.2" stroke-linecap="butt"/>
<path d="M145.50,814.30 H396.70 V977.40" fill="none" stroke="#000" stroke-width="2.2" stroke-linejoin="miter"/>
<path d="M145.50,836.00 H333.70 V897.00" fill="none" stroke="#000" stroke-width="2.2" stroke-linejoin="miter"/>
<path d="M145.50,857.30 H271.00 V869.50" fill="none" stroke="#000" stroke-width="2.2" stroke-linejoin="miter"/>
<path d="M145.50,881.00 H208.00 V892.70" fill="none" stroke="#000" stroke-width="2.2" stroke-linejoin="miter"/>
<text transform="translate(271.00,834.70) scale(1,1.22)" font-size="19" text-anchor="middle" letter-spacing="1.6">**</text>
<text transform="translate(240.00,856.70) scale(1,1.22)" font-size="19" text-anchor="middle">*</text>
<text transform="translate(207.80,876.70) scale(1,1.22)" font-size="19" text-anchor="middle" letter-spacing="1.6">**</text>
<text transform="translate(173.00,898.70) scale(1,1.22)" font-size="19" text-anchor="middle">*</text>
<text x="273.90" y="1134.00" font-size="21" text-anchor="middle" >MeSA/mM</text>
<text transform="translate(29.20,944.00) rotate(-90)" font-size="21" text-anchor="middle">Relative germination percentages/%</text>
<text x="11.00" y="782.00" font-size="21" text-anchor="start" >(E)</text>
<rect x="587.50" y="944.60" width="51.00" height="141.20" fill="#98D7E4" stroke="#000" stroke-width="2.2"/>
<rect x="651.20" y="903.60" width="50.70" height="182.20" fill="#98D7E4" stroke="#000" stroke-width="2.2"/>
<rect x="714.00" y="935.40" width="51.50" height="150.40" fill="#98D7E4" stroke="#000" stroke-width="2.2"/>
<rect x="777.00" y="975.40" width="51.80" height="110.40" fill="#98D7E4" stroke="#000" stroke-width="2.2"/>
<rect x="840.50" y="991.10" width="51.80" height="94.70" fill="#98D7E4" stroke="#000" stroke-width="2.2"/>
<line x1="613.00" y1="940.40" x2="613.00" y2="948.90" stroke="#000" stroke-width="2.2" stroke-linecap="butt"/>
<line x1="610.00" y1="940.40" x2="616.00" y2="940.40" stroke="#000" stroke-width="2.2" stroke-linecap="round"/>
<line x1="610.00" y1="948.90" x2="616.00" y2="948.90" stroke="#000" stroke-width="2.2" stroke-linecap="round"/>
<line x1="613.00" y1="1085.80" x2="613.00" y2="1079.80" stroke="#000" stroke-width="2.0" stroke-linecap="butt"/>
<text x="613.00" y="1108.70" font-size="21" text-anchor="middle" >0</text>
<line x1="676.55" y1="901.00" x2="676.55" y2="906.40" stroke="#000" stroke-width="2.2" stroke-linecap="butt"/>
<line x1="673.55" y1="901.00" x2="679.55" y2="901.00" stroke="#000" stroke-width="2.2" stroke-linecap="round"/>
<line x1="673.55" y1="906.40" x2="679.55" y2="906.40" stroke="#000" stroke-width="2.2" stroke-linecap="round"/>
<line x1="676.55" y1="1085.80" x2="676.55" y2="1079.80" stroke="#000" stroke-width="2.0" stroke-linecap="butt"/>
<text x="672.85" y="1108.70" font-size="21" text-anchor="middle" >0.01</text>
<line x1="739.75" y1="931.40" x2="739.75" y2="939.90" stroke="#000" stroke-width="2.2" stroke-linecap="butt"/>
<line x1="736.75" y1="931.40" x2="742.75" y2="931.40" stroke="#000" stroke-width="2.2" stroke-linecap="round"/>
<line x1="736.75" y1="939.90" x2="742.75" y2="939.90" stroke="#000" stroke-width="2.2" stroke-linecap="round"/>
<line x1="739.75" y1="1085.80" x2="739.75" y2="1079.80" stroke="#000" stroke-width="2.0" stroke-linecap="butt"/>
<text x="736.85" y="1108.70" font-size="21" text-anchor="middle" >0.1</text>
<line x1="802.90" y1="970.60" x2="802.90" y2="981.10" stroke="#000" stroke-width="2.2" stroke-linecap="butt"/>
<line x1="799.90" y1="970.60" x2="805.90" y2="970.60" stroke="#000" stroke-width="2.2" stroke-linecap="round"/>
<line x1="799.90" y1="981.10" x2="805.90" y2="981.10" stroke="#000" stroke-width="2.2" stroke-linecap="round"/>
<line x1="802.90" y1="1085.80" x2="802.90" y2="1079.80" stroke="#000" stroke-width="2.0" stroke-linecap="butt"/>
<text x="802.90" y="1108.70" font-size="21" text-anchor="middle" >1</text>
<line x1="866.40" y1="983.40" x2="866.40" y2="998.40" stroke="#000" stroke-width="2.2" stroke-linecap="butt"/>
<line x1="863.40" y1="983.40" x2="869.40" y2="983.40" stroke="#000" stroke-width="2.2" stroke-linecap="round"/>
<line x1="863.40" y1="998.40" x2="869.40" y2="998.40" stroke="#000" stroke-width="2.2" stroke-linecap="round"/>
<line x1="866.40" y1="1085.80" x2="866.40" y2="1079.80" stroke="#000" stroke-width="2.0" stroke-linecap="butt"/>
<text x="866.40" y="1108.70" font-size="21" text-anchor="middle" >4</text>
<line x1="549.50" y1="802.30" x2="549.50" y2="1087.10" stroke="#000" stroke-width="2.6" stroke-linecap="butt"/>
<line x1="549.50" y1="1085.80" x2="930.00" y2="1085.80" stroke="#000" stroke-width="2.6" stroke-linecap="butt"/>
<line x1="928.90" y1="1085.80" x2="928.90" y2="1080.80" stroke="#000" stroke-width="2.2" stroke-linecap="butt"/>
<line x1="549.50" y1="1057.55" x2="556.00" y2="1057.55" stroke="#000" stroke-width="2.2" stroke-linecap="butt"/>
<text x="541.20" y="1067.65" font-size="21.5" text-anchor="end" >0.2</text>
<line x1="549.50" y1="1029.30" x2="556.00" y2="1029.30" stroke="#000" stroke-width="2.2" stroke-linecap="butt"/>
<line x1="549.50" y1="1001.05" x2="556.00" y2="1001.05" stroke="#000" stroke-width="2.2" stroke-linecap="butt"/>
<text x="541.20" y="1009.35" font-size="21.5" text-anchor="end" >0.6</text>
<line x1="549.50" y1="972.80" x2="556.00" y2="972.80" stroke="#000" stroke-width="2.2" stroke-linecap="butt"/>
<line x1="549.50" y1="944.55" x2="556.00" y2="944.55" stroke="#000" stroke-width="2.2" stroke-linecap="butt"/>
<text x="541.20" y="951.85" font-size="21.5" text-anchor="end" >1.0</text>
<line x1="549.50" y1="916.30" x2="556.00" y2="916.30" stroke="#000" stroke-width="2.2" stroke-linecap="butt"/>
<line x1="549.50" y1="888.05" x2="556.00" y2="888.05" stroke="#000" stroke-width="2.2" stroke-linecap="butt"/>
<text x="541.20" y="895.05" font-size="21.5" text-anchor="end" >1.4</text>
<line x1="549.50" y1="859.80" x2="556.00" y2="859.80" stroke="#000" stroke-width="2.2" stroke-linecap="butt"/>
<line x1="549.50" y1="831.55" x2="556.00" y2="831.55" stroke="#000" stroke-width="2.2" stroke-linecap="butt"/>
<text x="541.20" y="838.55" font-size="21.5" text-anchor="end" >1.8</text>
<line x1="549.50" y1="803.30" x2="556.00" y2="803.30" stroke="#000" stroke-width="2.2" stroke-linecap="butt"/>
<line x1="613.50" y1="811.50" x2="613.50" y2="931.70" stroke="#000" stroke-width="2.2" stroke-linecap="butt"/>
<path d="M613.50,812.60 H865.00 V974.50" fill="none" stroke="#000" stroke-width="2.2" stroke-linejoin="miter"/>
<path d="M613.50,833.80 H801.70 V958.80" fill="none" stroke="#000" stroke-width="2.2" stroke-linejoin="miter"/>
<path d="M613.50,854.80 H739.00 V920.00" fill="none" stroke="#000" stroke-width="2.2" stroke-linejoin="miter"/>
<path d="M613.50,878.60 H676.00 V891.40" fill="none" stroke="#000" stroke-width="2.2" stroke-linejoin="miter"/>
<text transform="translate(740.20,832.20) scale(1,1.22)" font-size="19" text-anchor="middle">*</text>
<text transform="translate(707.70,854.20) scale(1,1.22)" font-size="19" text-anchor="middle">*</text>
<text x="675.30" y="872.00" font-size="16.5" text-anchor="middle" >N</text>
<text transform="translate(642.50,896.70) scale(1,1.22)" font-size="19" text-anchor="middle" letter-spacing="1.6">**</text>
<text x="742.00" y="1134.00" font-size="21" text-anchor="middle" >MeSA/mM</text>
<text transform="translate(505.50,945.40) rotate(-90)" font-size="21.4" text-anchor="middle">Relative length of pollen tube</text>
<text x="476.00" y="782.00" font-size="21" text-anchor="start" >(F)</text>
</svg>
</body></html>
